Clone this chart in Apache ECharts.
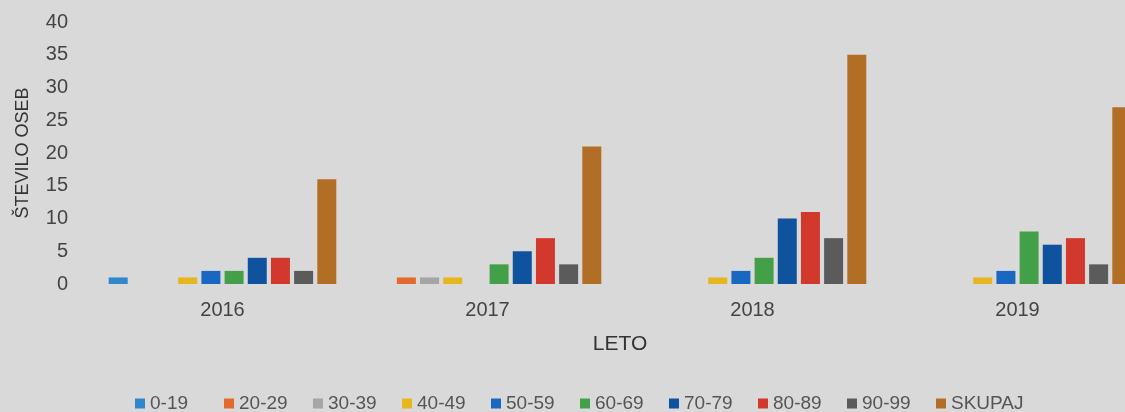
<!DOCTYPE html>
<html>
<head>
<meta charset="utf-8">
<script src="https://cdn.jsdelivr.net/npm/echarts@6/dist/echarts.min.js"></script>
<style>
html,body{margin:0;padding:0;background:#d9d9d9;}
#c{width:1125px;height:412px;}
</style>
</head>
<body>
<div id="c"></div>
<script>
var years = ['2016', '2017', '2018', '2019'];
var groups = ['0-19', '20-29', '30-39', '40-49', '50-59', '60-69', '70-79', '80-89', '90-99', 'SKUPAJ'];
var v0_19   = [1, 0, 0, 0];
var v20_29  = [0, 1, 0, 0];
var v30_39  = [0, 1, 0, 0];
var v40_49  = [1, 1, 1, 1];
var v50_59  = [2, 0, 2, 2];
var v60_69  = [2, 3, 4, 8];
var v70_79  = [4, 5, 10, 6];
var v80_89  = [4, 7, 11, 7];
var v90_99  = [2, 3, 7, 3];
var vSkupaj = [16, 21, 35, 27];
var yTicks = [0, 5, 10, 15, 20, 25, 30, 35, 40];

var values = [v0_19, v20_29, v30_39, v40_49, v50_59, v60_69, v70_79, v80_89, v90_99, vSkupaj];
var colors = ['#2f87cc', '#e3692c', '#a7a4a6', '#e6b61e', '#1868c2', '#43a048', '#0f539e', '#d2382b', '#5b5b5b', '#b36e26'];
var FONT = "'Liberation Sans', Arial, sans-serif";

var chart = echarts.init(document.getElementById('c'));
chart.setOption({
  backgroundColor: '#d9d9d9',
  color: colors,
  animation: false,
  grid: {left: 90, right: -25, top: 22, bottom: 128, containLabel: false, outerBoundsMode: 'none'},
  legend: {
    data: groups,
    left: 135, top: 394, padding: 0,
    icon: 'rect', itemWidth: 10, itemHeight: 10, itemGap: 10,
    formatter: '{t|{name}}',
    textStyle: {
      color: '#555', fontSize: 19, fontFamily: FONT,
      rich: {t: {width: 64, fontSize: 19, fontFamily: FONT, color: '#555', lineHeight: 20}}
    }
  },
  xAxis: {
    type: 'category', data: years,
    name: 'LETO', nameLocation: 'middle', nameGap: 50,
    nameTextStyle: {color: '#333', fontSize: 21, fontFamily: FONT},
    axisLine: {show: false}, axisTick: {show: false},
    axisLabel: {color: '#444', fontSize: 20, fontFamily: FONT, margin: 16}
  },
  yAxis: {
    type: 'value', min: yTicks[0], max: yTicks[yTicks.length - 1], interval: 5,
    name: 'ŠTEVILO OSEB', nameLocation: 'middle', nameGap: 58,
    nameTextStyle: {color: '#333', fontSize: 18, fontFamily: FONT},
    axisLine: {show: false}, axisTick: {show: false}, splitLine: {show: false},
    axisLabel: {color: '#444', fontSize: 20, fontFamily: FONT, margin: 22}
  },
  series: groups.map(function (g, i) {
    return {
      name: g, type: 'bar', data: values[i],
      barWidth: 19, barGap: '22%',
      itemStyle: {color: colors[i]}
    };
  })
});
</script>
</body>
</html>
